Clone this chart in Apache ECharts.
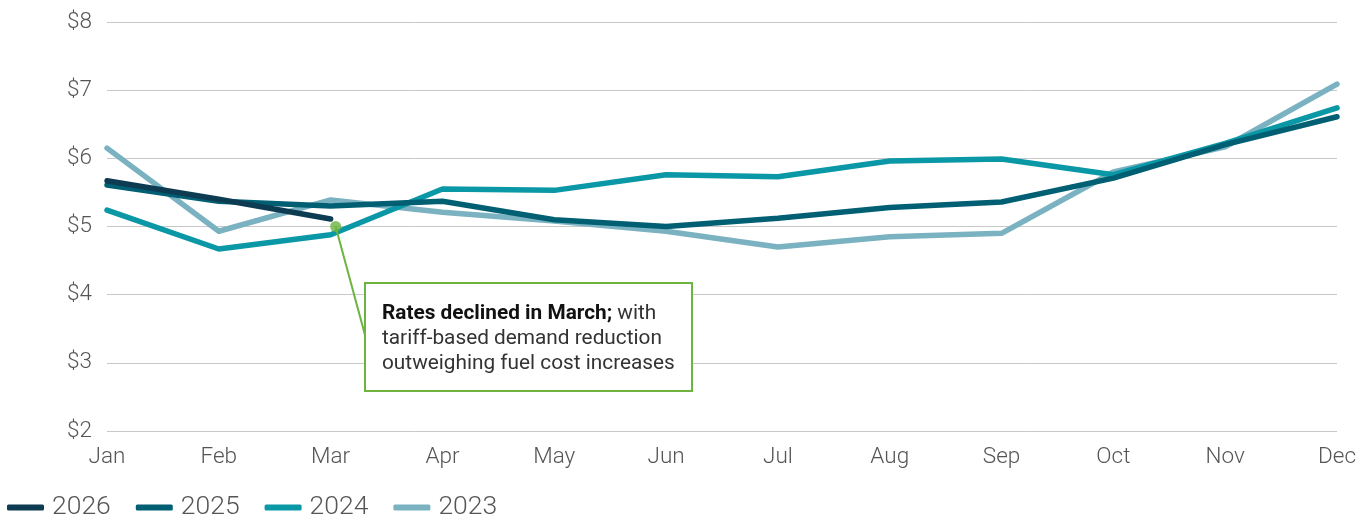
<!DOCTYPE html>
<html><head><meta charset="utf-8">
<script src="https://cdn.jsdelivr.net/npm/echarts@6/dist/echarts.min.js"></script>
<style>html,body{margin:0;padding:0;background:#fff}#c{width:1371px;height:517px}</style>
</head><body><div id="c"></div>
<script>
const months = ['Jan','Feb','Mar','Apr','May','Jun','Jul','Aug','Sep','Oct','Nov','Dec'];
const s2026 = [5.67, 5.40, 5.11];
const s2025 = [5.61, 5.37, 5.30, 5.37, 5.10, 5.00, 5.12, 5.28, 5.36, 5.71, 6.20, 6.61];
const s2024 = [5.24, 4.67, 4.88, 5.55, 5.53, 5.76, 5.73, 5.96, 5.99, 5.76, 6.22, 6.74];
const s2023 = [6.15, 4.93, 5.39, 5.21, 5.08, 4.93, 4.70, 4.85, 4.90, 5.80, 6.17, 7.09];
const seriesNames = ['2026','2025','2024','2023'];
const colors = ['#0d3b52','#005f73','#0a97a6','#7ab2c1'];
const annotPoint = ['Mar', 5.0];

const chart = echarts.init(document.getElementById('c'));
const font = 'Roboto, "Noto Sans", sans-serif';
function mk(name, data, color, z){
  return {name, type:'line', data, z, symbol:'none', smooth:false,
    lineStyle:{width:5.5, color, cap:'round', join:'round'}, itemStyle:{color}};
}
const series = [
  mk(seriesNames[3], s2023, colors[3], 2),
  mk(seriesNames[2], s2024, colors[2], 3),
  mk(seriesNames[1], s2025, colors[1], 4),
  mk(seriesNames[0], s2026, colors[0], 5)
];
series.push({type:'scatter', data:[annotPoint], symbolSize:11, symbolOffset:[5,0], z:10,
  itemStyle:{color:'#6cb33f'}, silent:true});
chart.setOption({
  animation:false,
  grid:{left:107, right:34, top:22, bottom:86, containLabel:false, outerBoundsMode:'none'},
  xAxis:{type:'category', data:months, boundaryGap:false,
    axisLine:{show:false}, axisTick:{show:false},
    axisLabel:{color:'#555', fontSize:22.5, fontFamily:font, fontWeight:300, margin:15}},
  yAxis:{type:'value', min:2, max:8, interval:1,
    axisLabel:{color:'#555', fontSize:22.5, fontFamily:font, fontWeight:300, margin:15, formatter:v=>'$'+v},
    splitLine:{lineStyle:{color:'#c8c8c8', width:1}}},
  legend:{data:seriesNames, left:2, top:489, itemWidth:37, itemHeight:6, itemGap:25,
    icon:'roundRect',
    textStyle:{color:'#555', fontSize:26.5, fontFamily:font, fontWeight:300, padding:[0,0,0,3]}},
  series
});
const p = chart.convertToPixel({gridIndex:0}, annotPoint);
const bx = 365, by = 283, bw = 327, bh = 108;
chart.setOption({graphic:[
  {type:'line', z:20, shape:{x1:p[0]+5, y1:p[1], x2:bx, y2:by+52}, style:{stroke:'#6cb33f', lineWidth:2}},
  {type:'rect', z:20, shape:{x:bx, y:by, width:bw, height:bh}, style:{fill:'#fff', stroke:'#6cb33f', lineWidth:2}},
  {type:'text', z:21, left:bx+17, top:by+18, style:{
    text:'{b|Rates declined in March;} with\ntariff-based demand reduction\noutweighing fuel cost increases',
    font:'20.8px '+font, fill:'#333', lineHeight:25,
    rich:{b:{fontWeight:'bold', fill:'#111', fontSize:20.8, fontFamily:'Roboto', lineHeight:25}}}}
]});
</script></body></html>
